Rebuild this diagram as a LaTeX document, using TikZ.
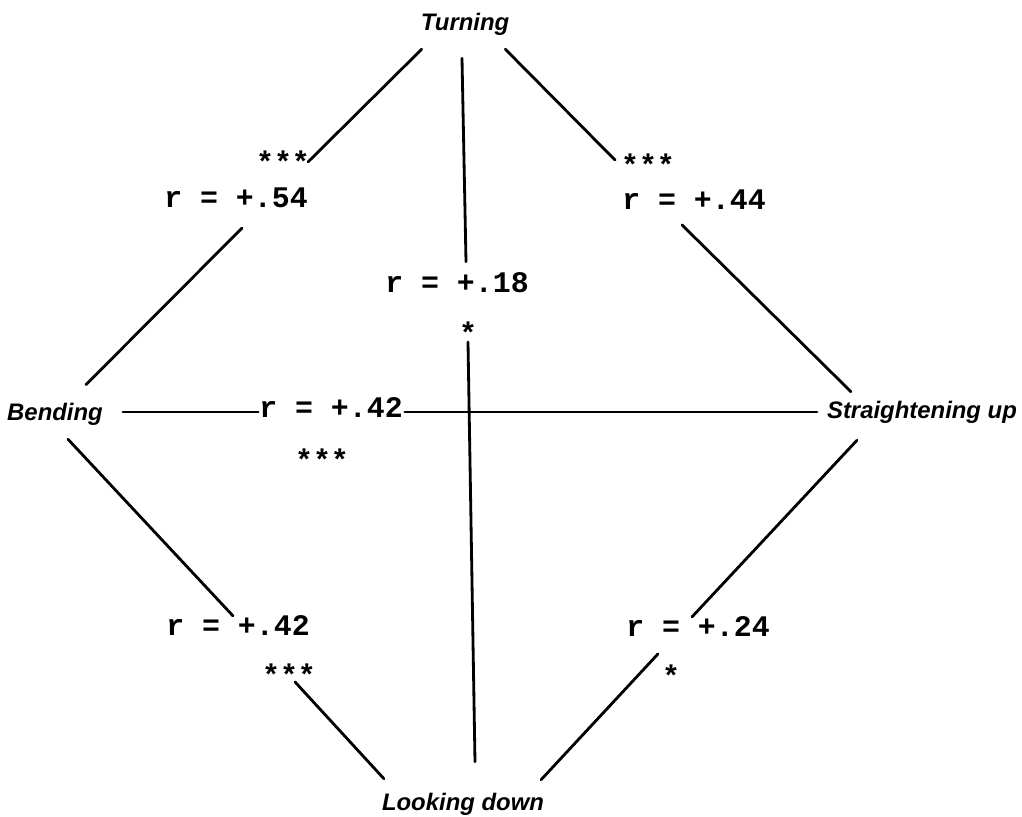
\documentclass[tikz,border=0pt]{standalone}
\usepackage{fontspec}
\setmainfont{Liberation Sans}
\setmonofont{Liberation Mono}
\usetikzlibrary{positioning}

\begin{document}
\begin{tikzpicture}[x=0.02cm,y=-0.02cm,
      lbl/.style={inner sep=1pt,font=\fontsize{13.6}{15}\selectfont\bfseries\itshape},
      corr/.style={inner sep=1pt,font=\fontsize{17}{19}\selectfont\ttfamily\bfseries},
      link/.style={line width=1.6pt,line cap=round}]
    \useasboundingbox (0,0) rectangle (1022,817);
    % the four movements
    \node[lbl] (turn) at (465,24)  {Turning};
    \node[lbl] (bend) at (55,414)  {Bending};
    \node[lbl] (strt) at (922,412) {Straightening up};
    \node[lbl] (look) at (463,804) {Looking down};
    % correlations and significance
    \node[corr] (r54) at (236,198) {r = +.54};
    \node[corr] (s54) at (283,162) {***};
    \node[corr] (r44) at (694,200) {r = +.44};
    \node[corr] (s44) at (648,165) {***};
    \node[corr] (r18) at (457,283) {r = +.18};
    \node[corr] (s18) at (468,333) {*};
    \node[corr] (r42h) at (331,408) {r = +.42};
    \node[corr] (s42h) at (322,460) {***};
    \node[corr] (r42d) at (238,626) {r = +.42};
    \node[corr] (s42d) at (289,675) {***};
    \node[corr] (r24) at (698,627) {r = +.24};
    \node[corr] (s24) at (671,676) {*};
    % links
    \draw[link] ([shift={(3,12)}]turn.south west) -- ([shift={(-4,0)}]s54.east);
    \draw[link] ([shift={(6,18)}]r54.south) -- ([shift={(-19,-16)}]bend.north east);
    \draw[link] ([shift={(-6,12)}]turn.south east) -- ([shift={(-4,-5)}]s44.west);
    \draw[link] ([shift={(-12,13)}]r44.south) -- ([shift={(26,-7)}]strt.north west);
    \draw[link] ([shift={(-3,21)}]turn.south) -- ([shift={(9,-9)}]r18.north);
    \draw[link] ([shift={(0,-4)}]s18.south) -- ([shift={(12,-29)}]look.north);
    \draw[link] ([shift={(18,-2)}]bend.east) -- ([shift={(1,4)}]r42h.west);
    \draw[link] ([shift={(0,4)}]r42h.east) -- ([shift={(-8,0)}]strt.west);
    \draw[link] ([shift={(13,12)}]bend.south) -- ([shift={(-5,2)}]r42d.north);
    \draw[link] ([shift={(6,-6)}]s42d.south) -- ([shift={(4,-12)}]look.north west);
    \draw[link] ([shift={(32,15)}]strt.south west) -- ([shift={(-6,2)}]r24.north);
    \draw[link] ([shift={(-2,-22)}]s24.west) -- ([shift={(-5,-11)}]look.north east);
\end{tikzpicture}
\end{document}
